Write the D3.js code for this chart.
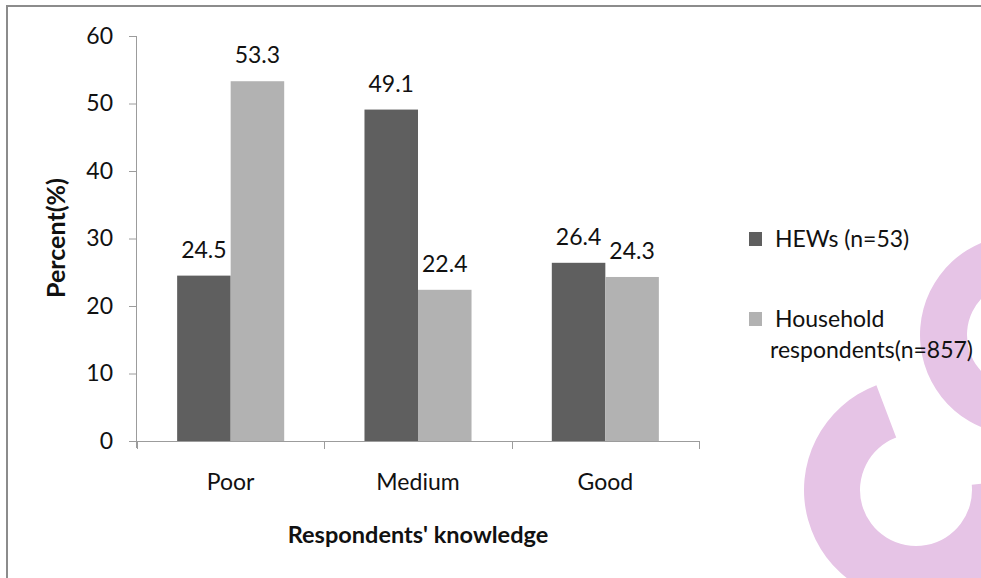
<!DOCTYPE html>
<html>
<head>
<meta charset="utf-8">
<script src="https://cdn.jsdelivr.net/npm/d3@7"></script>
<style>
  html, body { margin: 0; padding: 0; background: #fff; }
  svg { display: block; }
  text { font-family: Lato, "Open Sans", sans-serif; fill: #111; }
</style>
</head>
<body>
<svg id="chart" width="981" height="578"></svg>
<script>
// ---- data ----
const categories = ["Poor", "Medium", "Good"];
const seriesNames = ["HEWs (n=53)", "Household respondents(n=857)"];
const hewsValues = [24.5, 49.1, 26.4];
const householdValues = [53.3, 22.4, 24.3];
const yTicks = [0, 10, 20, 30, 40, 50, 60];
const xTitle = "Respondents' knowledge";
const yTitle = "Percent(%)";

const colors = ["#5f5f5f", "#b2b2b2"];
const seriesValues = [hewsValues, householdValues];
const FS = 23;

const svg = d3.select("#chart");

// ---- watermark (decorative) ----
const wm = svg.append("g").attr("fill", "#e6c4e6");
wm.append("path")
  .attr("transform", "translate(916,490)")
  .attr("d", d3.arc()({innerRadius: 56, outerRadius: 112,
                       startAngle: Math.PI * 0.47, endAngle: Math.PI * 1.885}));
wm.append("path")
  .attr("transform", "translate(1020,335)")
  .attr("d", d3.arc()({innerRadius: 53, outerRadius: 100,
                       startAngle: Math.PI * 1.05, endAngle: Math.PI * 2}));

// ---- frame ----
svg.append("path")
  .attr("d", "M7,600 V6 H990")
  .attr("fill", "none").attr("stroke", "#8c8c8c").attr("stroke-width", 2);

// ---- scales ----
const y = d3.scaleLinear().domain([0, 60]).range([441, 36]);
const x0 = d3.scaleBand().domain(categories).range([137, 699]).paddingInner(0).paddingOuter(0);
const x1 = d3.scaleBand().domain(d3.range(seriesNames.length))
  .range([0, x0.bandwidth()]).paddingInner(0).paddingOuter(0.75);

const axisColor = "#9c9c9c";

// ---- y axis ----
const gy = svg.append("g").attr("transform", "translate(137,0)")
  .call(d3.axisLeft(y).tickValues(yTicks).tickSize(8).tickPadding(16).tickFormat(d3.format("d")));
gy.select(".domain").attr("stroke", axisColor).attr("d", "M-0.5,36V448");
gy.selectAll(".tick line").attr("stroke", axisColor);
gy.selectAll(".tick text").attr("font-size", FS).attr("font-family", "Lato").attr("fill", "#111");

// ---- x axis ----
const gx = svg.append("g").attr("transform", "translate(0,441)")
  .call(d3.axisBottom(x0).tickSize(0).tickPadding(49));
gx.select(".domain").attr("stroke", axisColor);
gx.selectAll(".tick text").attr("font-size", FS).attr("font-family", "Lato").attr("fill", "#111")
  .attr("dy", "0");
const boundaries = categories.map(c => x0(c)).concat([x0.range()[1]]);
gx.selectAll(".bound").data(boundaries).enter().append("line")
  .attr("class", "bound")
  .attr("x1", d => Math.round(d) + 0.5).attr("x2", d => Math.round(d) + 0.5)
  .attr("y1", 0).attr("y2", 8).attr("stroke", axisColor);

// ---- bars ----
const groups = svg.append("g").selectAll("g").data(categories).enter().append("g")
  .attr("transform", c => `translate(${x0(c)},0)`);
groups.selectAll("rect").data((c, i) => seriesValues.map((vals, s) => ({s, v: vals[i]})))
  .enter().append("rect")
  .attr("x", d => x1(d.s)).attr("width", x1.bandwidth())
  .attr("y", d => y(d.v)).attr("height", d => y(0) - y(d.v))
  .attr("fill", d => colors[d.s]);
groups.selectAll("text.lbl").data((c, i) => seriesValues.map((vals, s) => ({s, v: vals[i]})))
  .enter().append("text").attr("class", "lbl")
  .attr("x", d => x1(d.s) + x1.bandwidth() / 2)
  .attr("y", d => y(d.v) - 18)
  .attr("text-anchor", "middle").attr("font-size", FS)
  .text(d => d3.format(".1f")(d.v));

// ---- axis titles ----
svg.append("text").attr("x", 418).attr("y", 543).attr("text-anchor", "middle")
  .attr("font-size", 23.5).attr("font-weight", "bold").text(xTitle);
svg.append("text").attr("transform", "translate(65,238) rotate(-90)")
  .attr("text-anchor", "middle").attr("font-size", 25).attr("font-weight", "bold").text(yTitle);

// ---- legend ----
const legend = svg.append("g");
legend.append("rect").attr("x", 749).attr("y", 232).attr("width", 13).attr("height", 14).attr("fill", colors[0]);
legend.append("text").attr("x", 775).attr("y", 246.5).attr("font-size", FS).text(seriesNames[0]);
legend.append("rect").attr("x", 749).attr("y", 312).attr("width", 13).attr("height", 14).attr("fill", colors[1]);
const words = seriesNames[1].split(" ");
legend.append("text").attr("x", 775).attr("y", 326.5).attr("font-size", FS).text(words[0]);
legend.append("text").attr("x", 770).attr("y", 358).attr("font-size", FS).text(words[1]);
</script>
</body>
</html>
